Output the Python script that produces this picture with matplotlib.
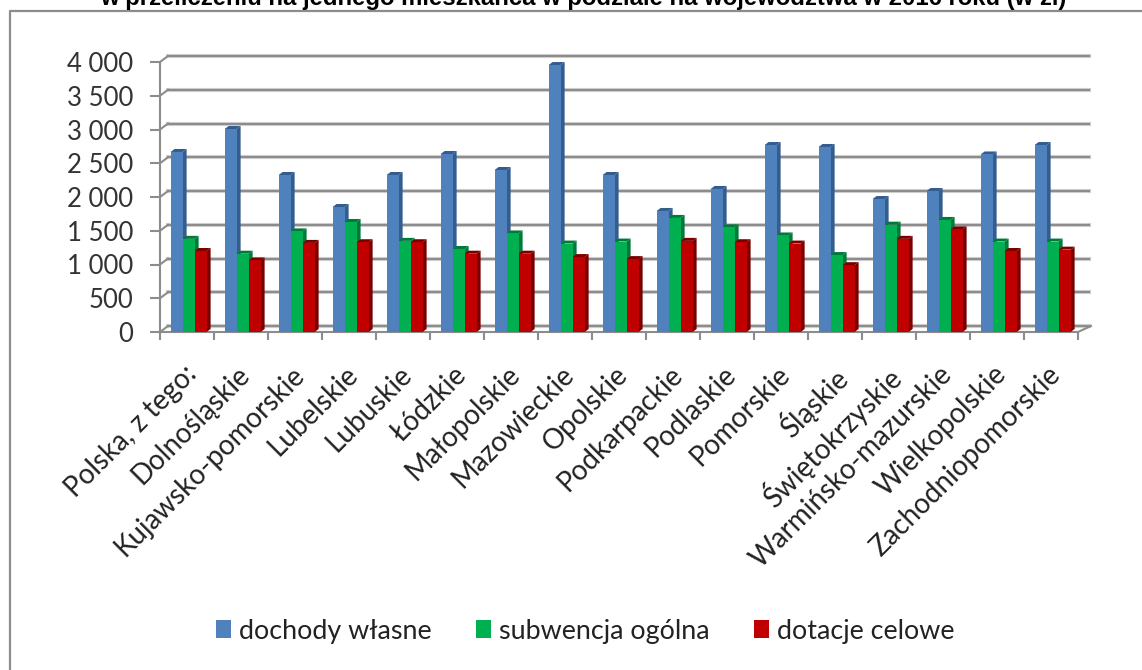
import matplotlib
matplotlib.use('Agg')
import matplotlib.pyplot as plt
from matplotlib.lines import Line2D
from matplotlib.patches import Polygon
from matplotlib.transforms import Affine2D, IdentityTransform
import numpy as np

regions = ['Polska, z tego:', 'Dolnośląskie', 'Kujawsko-pomorskie', 'Lubelskie', 'Lubuskie',
           'Łódzkie', 'Małopolskie', 'Mazowieckie', 'Opolskie', 'Podkarpackie', 'Podlaskie',
           'Pomorskie', 'Śląskie', 'Świętokrzyskie', 'Warmińsko-mazurskie', 'Wielkopolskie',
           'Zachodniopomorskie']
dochody = [2667, 3007, 2326, 1852, 2326, 2637, 2400, 3955, 2326, 1793, 2119, 2770, 2741, 1970, 2089, 2630, 2770]
subwencja = [1380, 1160, 1490, 1630, 1350, 1230, 1460, 1310, 1340, 1690, 1550, 1430, 1140, 1590, 1660, 1340, 1340]
dotacje = [1200, 1060, 1320, 1330, 1330, 1160, 1160, 1110, 1080, 1350, 1330, 1310, 990, 1380, 1520, 1200, 1220]
series_names = ['dochody własne', 'subwencja ogólna', 'dotacje celowe']
y_ticks = [0, 500, 1000, 1500, 2000, 2500, 3000, 3500, 4000]
y_labels = ['0', '500', '1 000', '1 500', '2 000', '2 500', '3 000', '3 500', '4 000']
title = 'w przeliczeniu na jednego mieszkańca w podziale na województwa w 2016 roku (w zł)'

W, H = 1142, 670
GREY = '#8c8c8c'
front = ['#4f81bd', '#00b050', '#c00000']
side = ['#335c8f', '#007a38', '#7a0000']

plt.rcParams['font.family'] = ['Lato', 'DejaVu Sans']
fig = plt.figure(figsize=(W / 100, H / 100), dpi=100)
ax = fig.add_axes([160 / W, (H - 332) / H, 918 / W, 270 / H])
ax.set_xlim(0, 17)
ax.set_ylim(0, 4000)
ax.patch.set_alpha(0)
for s in ['top', 'right']:
    ax.spines[s].set_visible(False)
for s in ['left', 'bottom']:
    ax.spines[s].set_color(GREY)
    ax.spines[s].set_linewidth(1.5)

ax.set_yticks(y_ticks, y_labels, fontsize=18.5, color='#333333')
ax.tick_params(axis='y', length=7, width=1.5, color=GREY, pad=12)
ax.set_xticks(np.arange(18), [''] * 18)
ax.tick_params(axis='x', which='major', length=6, width=1.5, color=GREY)
ax.set_xticks(np.arange(17) + 0.5, regions, minor=True, rotation=45, ha='right',
              va='top', rotation_mode='anchor', fontsize=20, color='#222222')
ax.tick_params(axis='x', which='minor', length=0, pad=21)
shift = Affine2D().translate(-4, 0)
for lab in ax.get_xticklabels(minor=True):
    lab.set_transform(lab.get_transform() + shift)

# back wall: gridlines pushed back by a few pixels
back = ax.transData + Affine2D().translate(8, 6)
for v in y_ticks:
    ax.plot([0, 17.06], [v, v], color='#d2d2d2', lw=3, transform=back, clip_on=False, zorder=1)
    ax.plot([0, 17.06], [v, v], color=GREY, lw=1.5, transform=back, clip_on=False, zorder=1.1)
    a = ax.transData.transform((0, v))
    ax.add_line(Line2D([a[0], a[0] + 8], [a[1], a[1] + 6], color=GREY, lw=1.5,
                       transform=IdentityTransform(), clip_on=False, zorder=1.2))
a = ax.transData.transform((17, 0))
ax.add_line(Line2D([a[0], a[0] + 13], [a[1], a[1] + 6], color=GREY, lw=1.5,
                   transform=IdentityTransform(), clip_on=False, zorder=1.2))

# bars with a fake 3d side and top
bw = 12 / 54
dx, dy = 4, 3
x = np.arange(17) + 0.5 + 0.03
handles = []
for k, vals in enumerate([dochody, subwencja, dotacje]):
    xs = x + (k - 1) * bw
    b = ax.bar(xs, vals, bw, color=front[k], zorder=3 + k * 0.1 + 0.05, label=series_names[k])
    handles.append(b)
    for xi, v in zip(xs, vals):
        x0, y0 = ax.transData.transform((xi - bw / 2, 0))
        x1, y1 = ax.transData.transform((xi + bw / 2, v))
        ax.add_patch(Polygon([(x1, y0), (x1 + dx, y0 + dy), (x1 + dx, y1 + dy), (x1, y1)],
                             color=side[k], lw=0, transform=IdentityTransform(),
                             clip_on=False, zorder=3 + k * 0.1))
        ax.add_patch(Polygon([(x0, y1), (x0 + dx, y1 + dy), (x1 + dx, y1 + dy), (x1, y1)],
                             color=side[k], lw=0, transform=IdentityTransform(),
                             clip_on=False, zorder=3 + k * 0.1))

fig.legend(handles=handles, loc='center', bbox_to_anchor=(585 / W, (H - 631) / H), ncol=3,
           frameon=False, fontsize=19.4, handlelength=0.57, handleheight=0.65,
           handletextpad=0.3, columnspacing=1.63, labelcolor='#222222')

# frame of the chart, cut off on the right and bottom
fig.add_artist(Line2D([9.5 / W, 9.5 / W, 1], [0, (H - 11) / H, (H - 11) / H], color=GREY, lw=1.6))
fig.text(583 / W, (H - 5) / H, title, ha='center', va='baseline', fontsize=17.2,
         fontweight='bold', family=['Liberation Sans', 'DejaVu Sans'], color='black')

fig.savefig('out.png', dpi=100)
